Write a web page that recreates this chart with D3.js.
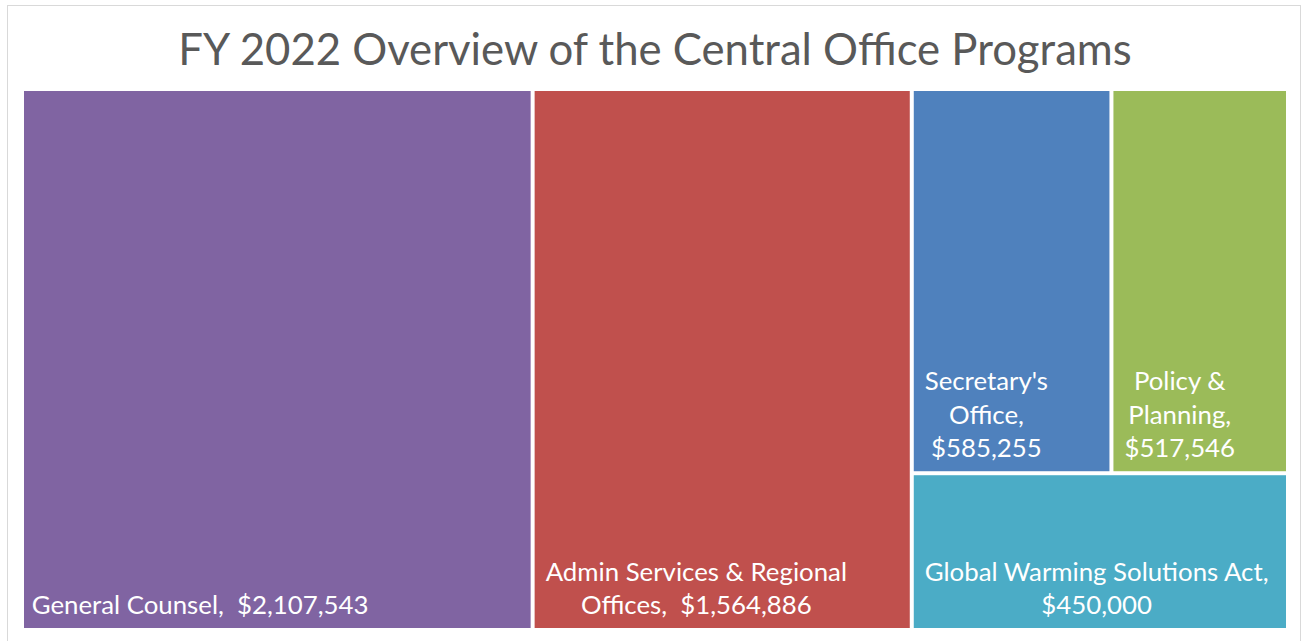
<!DOCTYPE html>
<html>
<head>
<meta charset="utf-8">
<script src="https://cdn.jsdelivr.net/npm/d3@7"></script>
<style>
  body { margin: 0; background: #fff; }
  svg { display: block; }
</style>
</head>
<body>
<div id="chart"></div>
<script>
// 数据
const programs = ['General Counsel', 'Admin Services & Regional Offices', "Secretary's Office", 'Policy & Planning', 'Global Warming Solutions Act']
const budgets = [2107543, 1564886, 585255, 517546, 450000]
const colorArr = ['#8064a2', '#c0504d', '#4f81bd', '#9bbb59', '#4bacc6']
const titleText = 'FY 2022 Overview of the Central Office Programs'

const width = 1302
const height = 641
const fontFamily = 'Lato, Carlito, Calibri, sans-serif'
const labelSize = 25.8

const svg = d3.select('#chart').append('svg').attr('width', width).attr('height', height)

// 外框
svg.append('rect')
  .attr('x', 7.5).attr('y', 5.5)
  .attr('width', 1293).attr('height', 645)
  .attr('fill', '#fff').attr('stroke', '#d9d9d9').attr('stroke-width', 1)

// 标题
svg.append('text')
  .attr('x', 655).attr('y', 65)
  .attr('text-anchor', 'middle')
  .attr('fill', '#595959')
  .attr('style', 'font-size: 43.7px; font-family: ' + fontFamily)
  .text(titleText)

// 层级: 前两个单独，后三个组成一组 (上: 2,3 下: 4)
const leaf = i => ({ name: programs[i], value: budgets[i], color: colorArr[i] })
const tree = {
  children: [
    leaf(0),
    leaf(1),
    { children: [{ children: [leaf(2), leaf(3)] }, leaf(4)] }
  ]
}

const root = d3.hierarchy(tree).sum(d => d.value || 0)
d3.treemap()
  .tile(d3.treemapSliceDice)
  .size([1262, 537])
  .paddingInner(4)
  .round(false)(root)

const g = svg.append('g').attr('transform', 'translate(24, 91)')
const fmt = d3.format('$,')

const cells = g.selectAll('g.cell').data(root.leaves()).join('g').attr('class', 'cell')

cells.append('rect')
  .attr('x', d => d.x0).attr('y', d => d.y0)
  .attr('width', d => d.x1 - d.x0).attr('height', d => d.y1 - d.y0)
  .attr('fill', d => d.data.color)

// 测量文字宽度
const measure = svg.append('text').attr('style', 'font-size: ' + labelSize + 'px; font-family: ' + fontFamily)
function textWidth (s) {
  measure.text(s)
  return measure.node().getComputedTextLength()
}

const lineHeight = 33.5
cells.each(function (d) {
  const words = d.data.name.split(' ')
  words[words.length - 1] += ','
  const tokens = words.map((w, i) => ({ w, sep: i ? ' ' : '' }))
  tokens.push({ w: fmt(d.data.value), sep: '  ' })
  const maxW = d.x1 - d.x0 - 20
  const lines = []
  let cur = ''
  tokens.forEach(t => {
    const next = cur ? cur + t.sep + t.w : t.w
    if (cur && textWidth(next) > maxW) {
      lines.push(cur)
      cur = t.w
    } else {
      cur = next
    }
  })
  lines.push(cur)
  const blockW = d3.max(lines, textWidth)
  const cx = d.x0 + 11 + blockW / 2
  const lastY = d.y1 - 14
  const text = d3.select(this).append('text')
    .attr('text-anchor', 'middle')
    .attr('fill', '#fff')
    .attr('style', 'font-size: ' + labelSize + 'px; font-family: ' + fontFamily)
  lines.forEach((l, i) => {
    text.append('tspan')
      .attr('x', cx)
      .attr('y', lastY - (lines.length - 1 - i) * lineHeight)
      .attr('xml:space', 'preserve')
      .style('white-space', 'pre')
      .text(l)
  })
})
measure.remove()
</script>
</body>
</html>
